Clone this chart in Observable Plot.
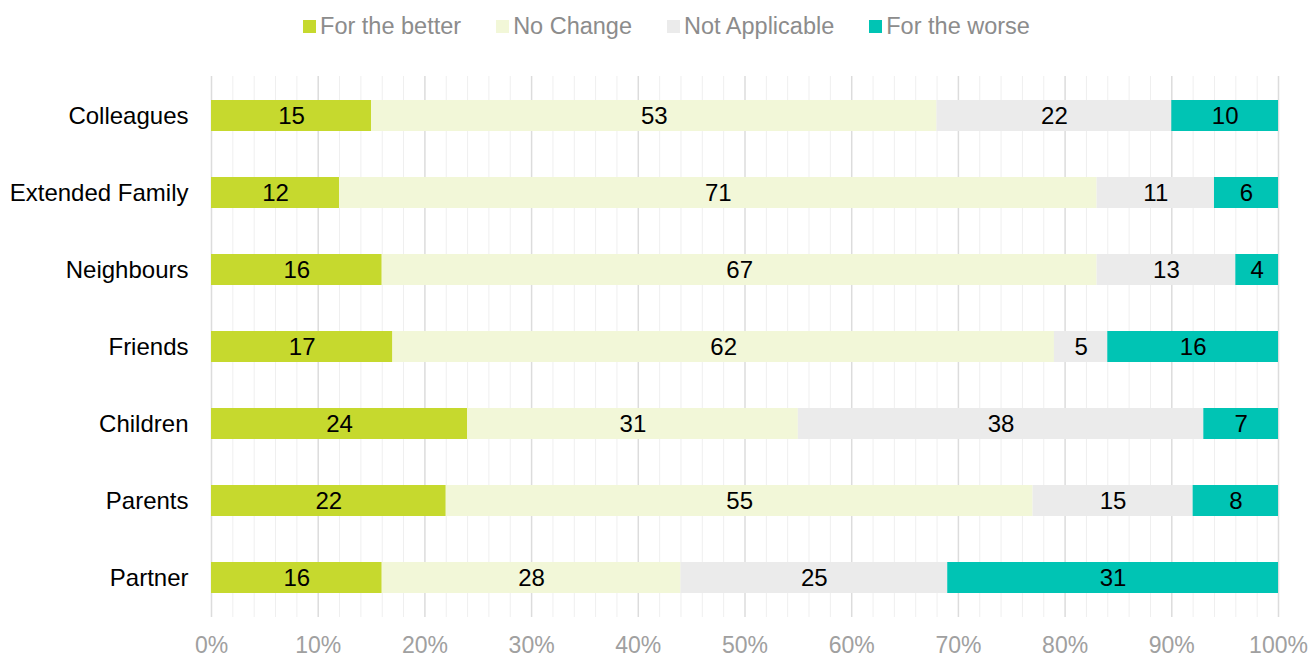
<!DOCTYPE html>
<html>
<head>
<meta charset="utf-8">
<script src="https://cdn.jsdelivr.net/npm/d3@7"></script>
<script src="https://cdn.jsdelivr.net/npm/@observablehq/plot@0.6"></script>
<style>
  body { margin: 0; background: #fff; font-family: "Liberation Sans", Arial, sans-serif; }
  #legend { height: 52px; display: flex; justify-content: center; align-items: center; gap: 35px; padding-left: 24px; box-sizing: border-box; font-size: 23.5px; color: #8c8c8c; }
  #legend .item { display: flex; align-items: center; gap: 4px; }
  #legend .sw { width: 13px; height: 13px; display: inline-block; }
</style>
</head>
<body>
<div id="legend"></div>
<div id="chart"></div>
<script>
const categories = ["Colleagues", "Extended Family", "Neighbours", "Friends", "Children", "Parents", "Partner"];
const seriesNames = ["For the better", "No Change", "Not Applicable", "For the worse"];
const seriesColors = ["#c6d92e", "#f2f7d8", "#ebebeb", "#00c4b4"];
const forTheBetter = [15, 12, 16, 17, 24, 22, 16];
const noChange = [53, 71, 67, 62, 31, 55, 28];
const notApplicable = [22, 11, 13, 5, 38, 15, 25];
const forTheWorse = [10, 6, 4, 16, 7, 8, 31];
const xTicks = [0, 10, 20, 30, 40, 50, 60, 70, 80, 90, 100];
const minorTicks = d3.range(0, 101, 2);

const seriesValues = [forTheBetter, noChange, notApplicable, forTheWorse];
const data = [];
categories.forEach((c, i) => {
  seriesNames.forEach((s, j) => data.push({category: c, series: s, value: seriesValues[j][i]}));
});

const legend = document.getElementById("legend");
seriesNames.forEach((s, i) => {
  const it = document.createElement("div");
  it.className = "item";
  it.innerHTML = `<span class="sw" style="background:${seriesColors[i]}"></span><span>${s}</span>`;
  legend.appendChild(it);
});

const stackOpts = {x: "value", y: "category", z: "series", order: seriesNames};

const chart = Plot.plot({
  width: 1309,
  height: 611,
  marginLeft: 211,
  marginRight: 31,
  marginTop: 24,
  marginBottom: 46,
  style: {fontFamily: "Liberation Sans, Arial, sans-serif", fontSize: "24px", background: "#fff"},
  x: {domain: [0, 100], ticks: xTicks, tickFormat: d => d + "%", tickSize: 0, tickPadding: 18, label: null},
  y: {domain: categories, paddingInner: 0.6, paddingOuter: 0.3, tickSize: 0, tickPadding: 23, label: null},
  color: {domain: seriesNames, range: seriesColors},
  marks: [
    Plot.ruleX(minorTicks.filter(d => d % 10 !== 0), {stroke: "#efefef", strokeWidth: 1}),
    Plot.ruleX(xTicks, {stroke: "#dcdcdc", strokeWidth: 1.5}),
    Plot.barX(data, Plot.stackX({...stackOpts, fill: "series"})),
    Plot.text(data, Plot.stackX({...stackOpts, text: "value", fill: "#000", fontSize: 24})),
    Plot.axisX({ticks: xTicks, tickFormat: d => d + "%", tickSize: 0, tickPadding: 19, color: "#a0a0a0", fontSize: 23, label: null}),
    Plot.axisY({tickSize: 0, tickPadding: 23, color: "#000", fontSize: 24, label: null})
  ]
});
document.getElementById("chart").appendChild(chart);
</script>
</body>
</html>
